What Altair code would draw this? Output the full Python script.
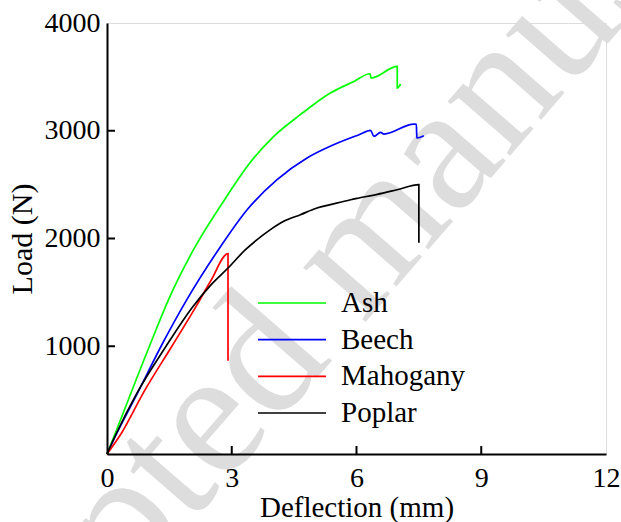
import altair as alt
import pandas as pd

# ---- data ----
species = ["Ash", "Beech", "Mahogany", "Poplar"]
colors = ["#00ff00", "#0000ff", "#ff0000", "#000000"]

ash_x = [0, 0.20, 1.02, 1.48, 2.08, 2.80, 3.37, 4.01, 4.65, 5.37, 5.94, 6.33, 6.35, 6.98, 6.98, 7.06]
ash_y = [0, 195, 1000, 1433, 1896, 2344, 2669, 2948, 3149, 3350, 3458, 3529, 3489, 3597, 3397, 3434]

beech_x = [0, 0.22, 0.74, 1.30, 1.92, 2.68, 3.37, 4.09, 4.81, 5.45, 6.06, 6.34, 6.42, 6.58, 6.66, 7.38, 7.44, 7.45, 7.62]
beech_y = [0, 180, 570, 1000, 1433, 1896, 2267, 2546, 2747, 2870, 2963, 3003, 2947, 2984, 2969, 3062, 3060, 2933, 2954]

mahog_x = [0, 0.35, 0.88, 1.56, 2.15, 2.50, 2.91, 2.91]
mahog_y = [0, 195, 572, 1000, 1375, 1610, 1859, 866]

poplar_x = [0, 0.23, 0.73, 1.42, 2.05, 2.50, 2.91, 3.33, 3.61, 3.93, 4.25, 4.65, 5.05, 5.37, 5.86, 6.06, 6.50, 7.00, 7.50, 7.50]
poplar_y = [0, 195, 572, 1000, 1360, 1570, 1726, 1896, 1989, 2082, 2159, 2221, 2283, 2314, 2360, 2376, 2410, 2455, 2500, 1960]

x_tick_values = [0, 3, 6, 9, 12]
y_tick_values = [1000, 2000, 3000, 4000]
inner_x_ticks = [3, 6, 9]
inner_y_ticks = [1000, 2000, 3000]
watermark = ["Accepted manuscript"]

series = [(species[0], ash_x, ash_y), (species[1], beech_x, beech_y),
          (species[2], mahog_x, mahog_y), (species[3], poplar_x, poplar_y)]
rows = []
for name, xs, ys in series:
    for i, (a, b) in enumerate(zip(xs, ys)):
        rows.append({"Species": name, "Deflection": a, "Load": b, "i": i})
df = pd.DataFrame(rows)
leg_df = pd.DataFrame({"Species": species, "idx": list(range(len(species)))})

W, H = 499, 431
FONT = "Liberation Serif"
xscale = alt.Scale(domain=[0, 12], nice=False, zero=False)
yscale = alt.Scale(domain=[0, 4000], nice=False, zero=False)
cscale = alt.Scale(domain=species, range=colors)

x_axis = alt.Axis(values=x_tick_values, ticks=False, grid=False, labelFontSize=28,
                  labelFont=FONT, labelColor="black", labelPadding=10, format="d",
                  title="Deflection (mm)", titleFont=FONT, titleFontSize=29,
                  titleFontWeight="normal", titleColor="black", titlePadding=1,
                  domainColor="black", domainWidth=2, labelFlush=False, zindex=1)
y_axis = alt.Axis(values=y_tick_values, ticks=False, grid=False, labelFontSize=28,
                  labelFont=FONT, labelColor="black", labelPadding=7, format="d",
                  title="Load (N)", titleFont=FONT, titleFontSize=30,
                  titleFontWeight="normal", titleColor="black", titlePadding=7,
                  domainColor="black", domainWidth=2, labelFlush=False, zindex=1)

wm = alt.Chart(pd.DataFrame({"t": watermark})).mark_text(
    angle=311, fontSize=180, font=FONT, color="#dddddd", align="center", baseline="middle"
).encode(x=alt.value(240), y=alt.value(238), text="t:N")

lines = alt.Chart(df).mark_line(strokeWidth=1.7, interpolate="monotone").encode(
    x=alt.X("Deflection:Q", scale=xscale, axis=x_axis),
    y=alt.Y("Load:Q", scale=yscale, axis=y_axis),
    color=alt.Color("Species:N", scale=cscale, legend=None),
    order="i:Q",
)

xt = alt.Chart(pd.DataFrame({"v": inner_x_ticks})).mark_rule(color="black", strokeWidth=2).encode(
    x=alt.X("v:Q", scale=xscale, axis=x_axis), y=alt.value(H), y2=alt.value(H - 8))
yt = alt.Chart(pd.DataFrame({"v": inner_y_ticks})).mark_rule(color="black", strokeWidth=2).encode(
    y=alt.Y("v:Q", scale=yscale, axis=None), x=alt.value(0), x2=alt.value(8))

leg_scale = alt.Scale(domain=[0, 3], range=[280, 390])
leg_lines = alt.Chart(leg_df).mark_rule(strokeWidth=1.7).encode(
    y=alt.Y("idx:Q", scale=leg_scale, axis=None),
    x=alt.value(151), x2=alt.value(219),
    color=alt.Color("Species:N", scale=cscale, legend=None))
leg_text = alt.Chart(leg_df).mark_text(align="left", baseline="middle", font=FONT,
                                       fontSize=29, color="black").encode(
    y=alt.Y("idx:Q", scale=leg_scale, axis=None),
    x=alt.value(234), text="Species:N")

chart = alt.layer(wm, lines, xt, yt, leg_lines, leg_text).resolve_scale(y="independent").properties(
    width=W, height=H,
    autosize=alt.AutoSizeParams(type="none"),
    padding={"left": 107, "top": 23, "right": 15, "bottom": 68},
).configure_view(stroke="black", strokeWidth=2).configure(background="white")

chart.save("out.html", embed_options={"renderer": "svg", "actions": False})
